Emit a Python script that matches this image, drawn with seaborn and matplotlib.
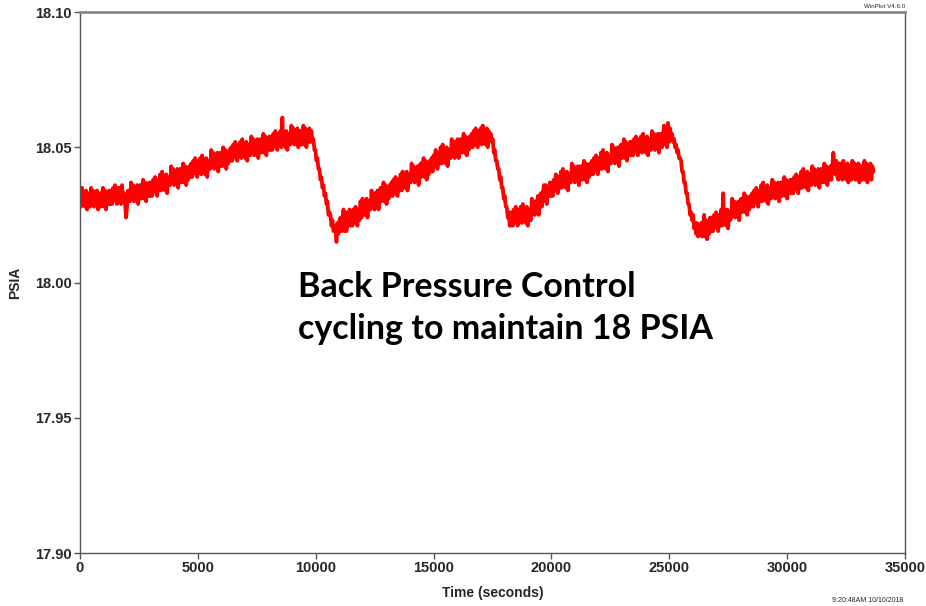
import numpy as np
import pandas as pd
import matplotlib
matplotlib.use("Agg")
import matplotlib.pyplot as plt
import seaborn as sns

SAMPLE_INTERVAL_S = 42.5
# pressure readings in thousandths above 18.000 PSIA, one row = 10 samples
psia_milli = [
    34, 28, 35, 29, 32, 28, 34, 27, 33, 30,
    28, 35, 30, 34, 28, 33, 29, 34, 27, 32,
    33, 28, 32, 35, 28, 34, 27, 32, 29, 34,
    29, 34, 29, 35, 31, 36, 30, 29, 35, 31,
    35, 29, 36, 30, 33, 29, 24, 28, 34, 31,
    30, 37, 32, 36, 30, 35, 31, 36, 29, 34,
    36, 31, 35, 38, 31, 37, 30, 35, 32, 37,
    32, 37, 32, 38, 34, 39, 33, 32, 38, 34,
    40, 34, 41, 35, 38, 34, 40, 33, 39, 36,
    36, 43, 38, 42, 36, 41, 37, 42, 35, 40,
    42, 37, 41, 44, 37, 43, 36, 41, 38, 43,
    39, 44, 39, 45, 41, 46, 40, 39, 45, 41,
    46, 40, 47, 41, 44, 40, 46, 39, 45, 42,
    42, 49, 44, 48, 42, 47, 43, 48, 41, 46,
    48, 43, 47, 50, 43, 49, 42, 47, 44, 49,
    45, 50, 45, 51, 47, 52, 46, 45, 51, 47,
    52, 46, 53, 47, 50, 46, 52, 45, 51, 48,
    47, 54, 49, 53, 47, 52, 48, 53, 46, 51,
    53, 48, 52, 55, 48, 54, 47, 52, 49, 54,
    49, 54, 49, 55, 51, 56, 50, 49, 55, 51,
    56, 50, 61, 51, 54, 50, 56, 49, 55, 52,
    51, 58, 53, 57, 51, 56, 52, 57, 50, 55,
    56, 51, 55, 58, 51, 57, 50, 55, 52, 57,
    52, 56, 52, 53, 49, 49, 45, 46, 42, 42,
    38, 39, 35, 36, 32, 33, 29, 30, 25, 26,
    25, 21, 23, 19, 19, 21, 15, 22, 18, 23,
    24, 19, 23, 27, 19, 26, 19, 24, 21, 27,
    21, 26, 21, 27, 23, 28, 22, 21, 27, 23,
    30, 24, 31, 25, 28, 25, 31, 24, 30, 27,
    27, 34, 29, 33, 27, 33, 29, 34, 27, 32,
    35, 30, 34, 37, 30, 36, 29, 34, 31, 36,
    32, 37, 32, 38, 34, 39, 33, 32, 38, 34,
    40, 34, 41, 35, 38, 35, 41, 34, 40, 37,
    37, 44, 39, 43, 37, 42, 38, 43, 36, 41,
    44, 39, 43, 46, 39, 45, 38, 43, 40, 45,
    41, 46, 41, 47, 43, 49, 43, 42, 48, 44,
    50, 44, 51, 45, 48, 44, 50, 43, 49, 46,
    46, 53, 48, 52, 46, 52, 48, 53, 46, 51,
    53, 48, 52, 55, 48, 54, 47, 52, 49, 54,
    50, 55, 50, 56, 52, 57, 51, 50, 56, 52,
    57, 51, 58, 52, 55, 51, 57, 50, 56, 53,
    55, 52, 53, 48, 49, 45, 45, 42, 42, 38,
    39, 35, 35, 31, 32, 28, 28, 24, 26, 21,
    21, 26, 21, 27, 23, 28, 22, 21, 27, 23,
    28, 22, 29, 23, 26, 22, 28, 21, 27, 24,
    23, 31, 26, 30, 25, 30, 27, 32, 25, 31,
    33, 28, 33, 36, 30, 36, 29, 35, 32, 37,
    32, 37, 32, 38, 34, 40, 34, 33, 39, 35,
    41, 35, 42, 36, 39, 35, 41, 34, 40, 37,
    37, 44, 39, 43, 37, 42, 38, 43, 36, 41,
    43, 38, 42, 45, 38, 44, 37, 42, 39, 44,
    40, 45, 40, 46, 42, 47, 41, 40, 46, 42,
    48, 42, 49, 43, 46, 42, 48, 41, 47, 44,
    44, 51, 46, 50, 44, 49, 45, 50, 43, 48,
    51, 46, 50, 53, 46, 52, 45, 50, 47, 52,
    47, 52, 47, 53, 49, 54, 48, 47, 53, 49,
    54, 48, 55, 49, 52, 48, 54, 47, 53, 50,
    49, 56, 51, 55, 49, 54, 50, 55, 48, 53,
    55, 50, 54, 58, 51, 57, 50, 59, 52, 57,
    54, 55, 52, 53, 50, 51, 48, 49, 46, 46,
    45, 41, 41, 37, 37, 33, 33, 29, 29, 25,
    26, 23, 25, 20, 22, 18, 22, 17, 21, 18,
    22, 17, 21, 25, 17, 23, 16, 21, 18, 24,
    19, 24, 19, 25, 21, 26, 20, 19, 25, 21,
    27, 21, 33, 22, 25, 21, 27, 20, 26, 23,
    24, 31, 26, 30, 24, 29, 25, 30, 23, 28,
    31, 26, 30, 33, 26, 32, 25, 30, 27, 32,
    28, 33, 28, 34, 30, 35, 29, 28, 34, 30,
    36, 30, 37, 31, 34, 30, 36, 29, 35, 32,
    31, 38, 33, 37, 31, 36, 32, 37, 30, 35,
    37, 32, 36, 39, 32, 38, 31, 36, 33, 38,
    33, 38, 33, 39, 35, 40, 34, 33, 39, 35,
    41, 35, 42, 36, 39, 35, 41, 34, 40, 37,
    36, 43, 38, 42, 36, 41, 37, 42, 35, 40,
    42, 37, 41, 44, 37, 43, 36, 41, 38, 43,
    38, 43, 48, 44, 40, 45, 39, 38, 44, 40,
    44, 38, 45, 39, 42, 38, 44, 37, 43, 40,
    38, 45, 40, 44, 38, 43, 39, 44, 37, 42,
    43, 38, 42, 45, 38, 44, 37, 42, 39, 44,
    38, 43, 41,
]
BASE_PSIA = 18.0
x_ticks = [0, 5000, 10000, 15000, 20000, 25000, 30000, 35000]
y_ticks = [17.90, 17.95, 18.00, 18.05, 18.10]
annotation = "Back Pressure Control\ncycling to maintain 18 PSIA"

psia = BASE_PSIA + np.array(psia_milli) / 1000.0
times = np.arange(len(psia)) * SAMPLE_INTERVAL_S
df = pd.DataFrame({"Time (seconds)": times, "PSIA": psia})

sns.set_style("white")
plt.rcParams['font.family'] = ['Liberation Sans', 'DejaVu Sans']

fig = plt.figure(figsize=(9.26, 6.06), dpi=100)
ax = fig.add_axes([80/926, 1-553/606, 825/926, 541/606])
sns.lineplot(data=df, x="Time (seconds)", y="PSIA", ax=ax, color="#ff0000",
             linewidth=2.7, estimator=None)

ax.set_xlim(0, 35000)
ax.set_ylim(17.90, 18.10)
ax.set_xticks(x_ticks)
ax.set_xticklabels([str(v) for v in x_ticks])
ax.set_yticks(y_ticks)
ax.set_yticklabels([f"{v:.2f}" for v in y_ticks])
ax.tick_params(axis="both", which="major", direction="out", length=4, width=1,
               color="#555555", labelsize=10.5, pad=2, bottom=True, left=True)
for lab in ax.get_xticklabels() + ax.get_yticklabels():
    lab.set_fontweight("bold")
ax.set_xlabel("Time (seconds)", fontsize=10, fontweight="bold", labelpad=8)
ax.set_ylabel("PSIA", fontsize=10, fontweight="bold", labelpad=9)

for side in ["left", "bottom", "right"]:
    ax.spines[side].set_color("#555555")
    ax.spines[side].set_linewidth(1.0)
ax.spines["top"].set_color("#888888")
ax.spines["top"].set_linewidth(2.0)

ax.text(298/926, 1-308/606, annotation, transform=fig.transFigure,
        fontsize=24.5, fontweight="bold", family=["Lato", "DejaVu Sans"],
        ha="left", va="center", linespacing=1.35, color="black")

fig.text(905/926, 1-7/606, "WinPlot V4.6.0", fontsize=4.5, ha="right", va="center")
fig.text(903/926, 1-600/606, "9:20:48AM 10/10/2018", fontsize=5, ha="right", va="center")

fig.savefig("out.png", dpi=100)
